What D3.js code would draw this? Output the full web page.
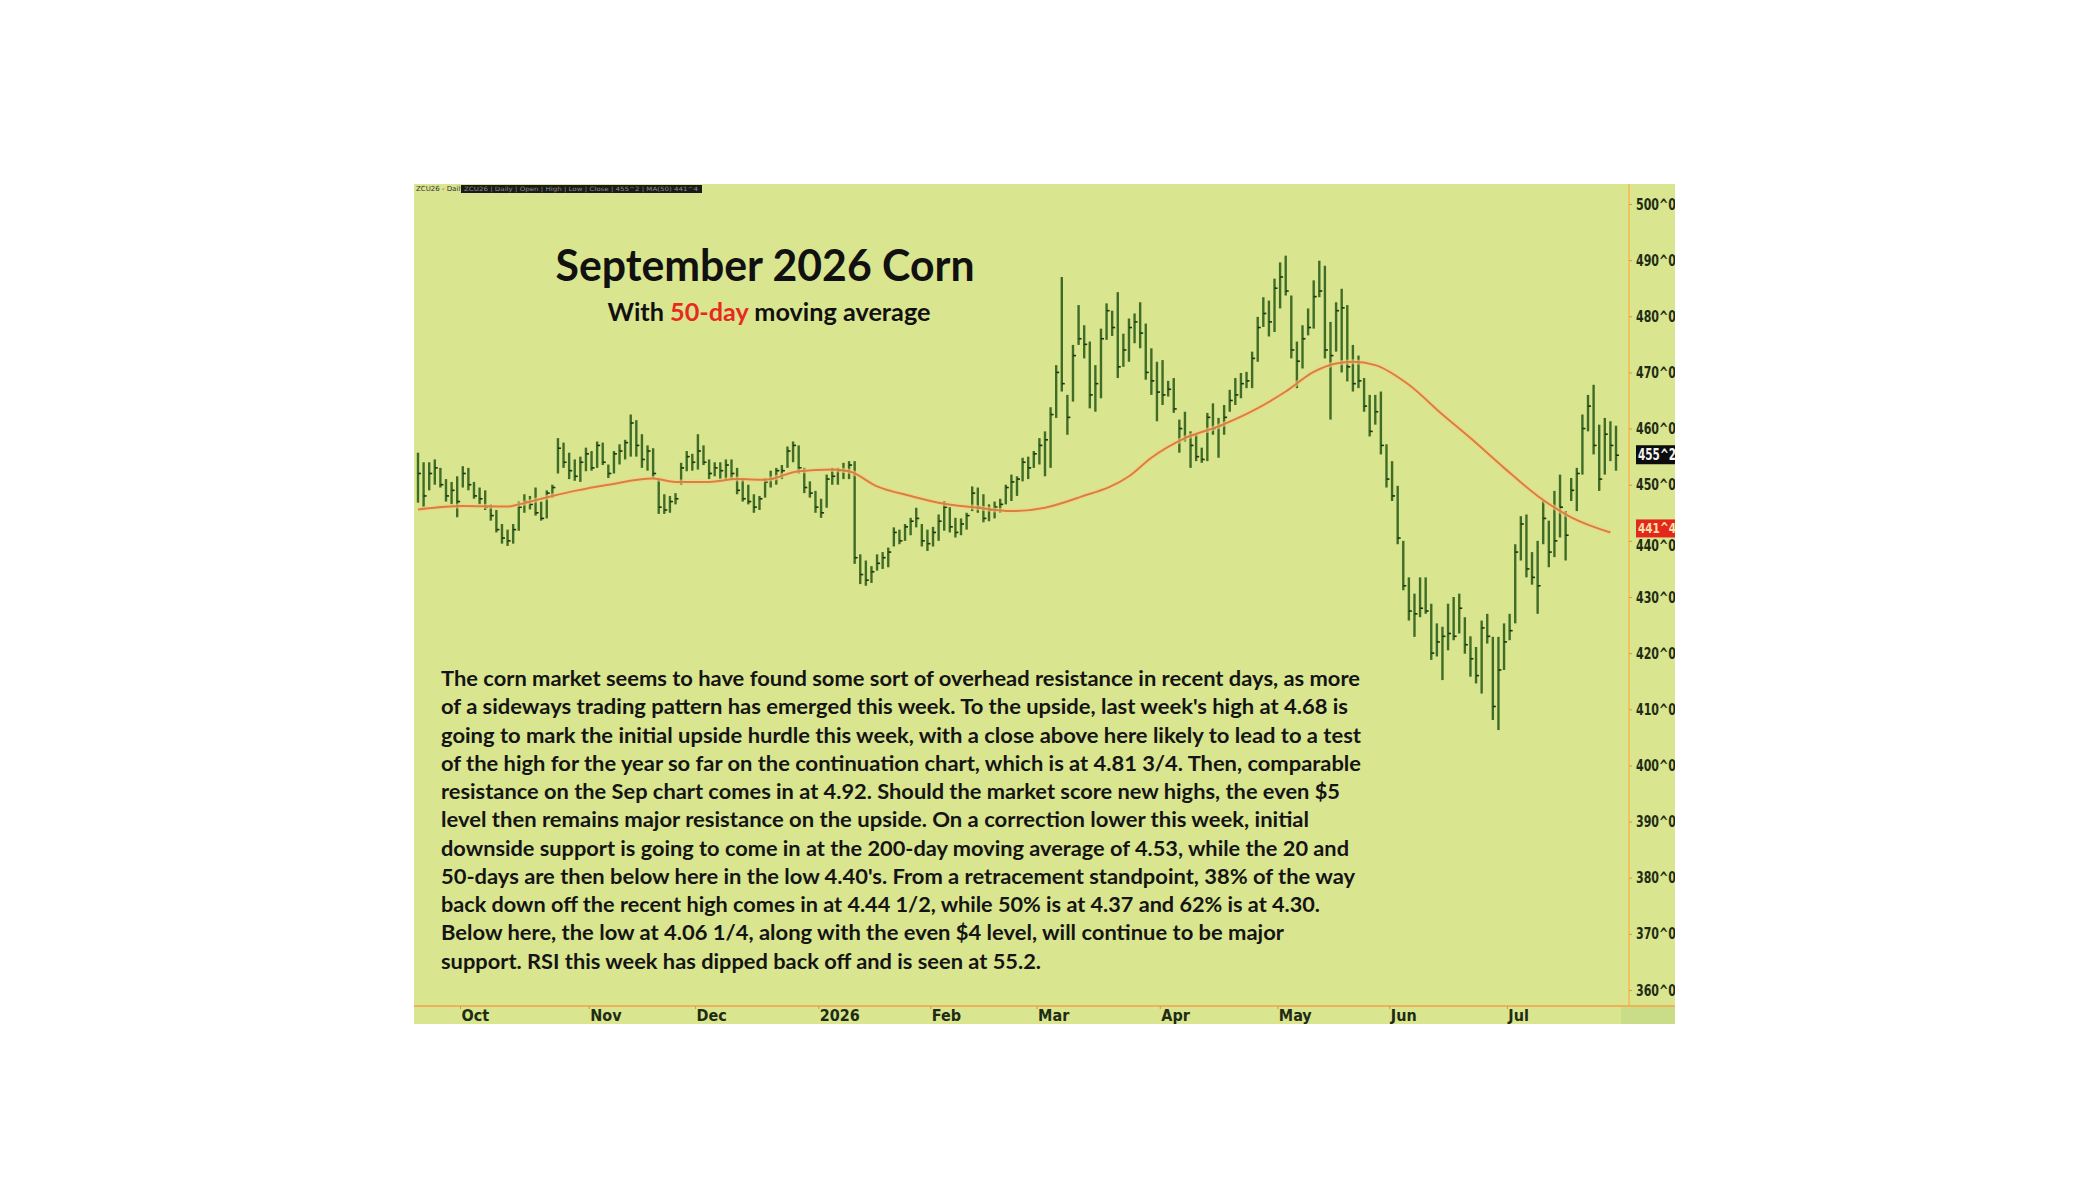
<!DOCTYPE html>
<html>
<head>
<meta charset="utf-8">
<script src="https://cdn.jsdelivr.net/npm/d3@7"></script>
<style>
  body { margin: 0; background: #ffffff; }
</style>
</head>
<body>
<div id="chart"></div>
<script>
// daily bars, Sep 2025 .. Jul 2026 (cents/bu)
var highs = [455.7,454,454,454.5,453,451,450.5,451.5,453.3,453,450.5,449.5,449,446.5,445.5,443,442,443,447,448.3,
  448,449.5,447,449,450,458.3,457.5,455.7,454.5,455,456.6,456,457.7,457.5,453.6,456,457.2,458,462.5,461.5,
  459,457,456.5,451,448.3,448,448.5,453.9,456,455.5,459,457,454.5,454,454,454.5,454.5,453,451.2,450,
  448.3,448,451.2,452.5,453,453.5,456.8,457.7,457,453,450.6,448.9,447.5,451.8,453,453,453.9,454.2,454.2,437.6,
  436.5,435.5,437.6,438,438.8,442.4,442,443,444.1,445.9,443,442,442.5,444.7,447.1,446,444.1,444,445,449.7,
  449.5,448.3,446.5,447,447.5,450,451.8,451.5,454.8,455,456,458.3,459.5,463.8,471.3,487,466,474.9,482,478.4,
  475.5,471.3,477.8,482.3,481,484.3,476.9,479.6,480.5,482.5,478.7,474.3,471.9,472.2,468.5,469,461.6,463,459.5,459,
  456.6,462.8,464.5,461.9,464.2,466.9,469,469.9,470.1,473.7,479.9,483.4,482.8,486.7,489.6,490.8,483.7,475.5,478.4,481.4,
  486.4,489.9,489,479,482.5,484.9,482,474.9,473,469,466,466,466.6,457.2,454.2,449.8,440,433.5,430.6,433.5,
  433.5,428.8,425.3,424.7,428.8,430,430.6,426.4,423,421.1,425.8,427,422.9,422.9,425.3,427,439.4,444.4,444.7,438,
  440,447.1,443.6,448.9,451.8,445.3,451.2,453,462.5,466,467.8,460.7,461.9,461.3,460.5];

var lows = [446.8,446,449,450,449.5,447,446.5,444.2,449.5,449,447.5,446.5,445.5,443.6,441.5,439.5,439.1,439.5,441.8,445,
  445.6,444.5,443.6,444,447.7,452,453,451,450.7,450.5,452.4,452.5,453,453.5,451.2,452,453.6,454.5,455,455,
  453,452.5,451,444.8,444.8,445,446.5,450,452.4,452.5,452.7,453.5,451,451.5,451,451,451,448.3,447,446.5,
  445,445.5,447.7,449.5,450,451,453,454,452,448.5,447.7,445,444.1,445.9,450,450,451,451,435.9,432.3,
  432,432.5,434.7,435,435.3,439,439.4,440,441,442.4,439,438.2,439,440,441.8,441.5,440.6,441,442,445.3,
  445,443.3,443.5,444,445,446.5,447.1,448,450.6,451,453,453.6,451.5,453,461.9,466.6,458.9,464.8,474.9,472.5,
  463.6,463,465.4,475.8,476.5,469,471,471.9,475.2,474.3,468.7,466,461.3,464.2,465.7,462.8,455.7,457.7,453,454.2,
  453.9,454.2,458.9,454.8,458.9,463,464.2,465.4,467.2,467.2,471.9,478.1,476.4,477.2,481.4,483.7,472.5,467.2,470.7,476.6,
  477.8,483.4,472.5,461.6,473.7,470,468.4,466.6,467.2,463,458.6,460.7,455.4,449.5,447.1,439.4,431.2,425.8,422.9,426.4,
  427,418.8,419.4,415.2,420.5,422.3,423.5,419.9,415.8,414.6,412.8,421.7,408.1,406.3,417,422.3,425.3,436.5,433.5,432.2,
  427,439.4,435.3,437.1,440.6,436.5,447.1,445.3,451.8,459.5,455.4,448.9,451.8,454.2,452.5];

var closes = [452,448,452,453,450,448,449,447,452,450,448,447.5,446,444.5,442,440.5,440,442,446,447,
  446.5,445,444,448.5,449.5,456.5,454,452.5,451.5,454,455.5,453,457,454,452,455.5,456,457.5,461,457,
  454.5,456,452,446,445.5,447,447.5,453,455,454,456,454,452,453,452.5,453.5,452,449,447.5,447,
  446,447.5,450.5,451,452.5,452.5,456,457,453,449.5,448.5,446,445,451,451.5,452.5,452.5,453.5,437,434,
  433,434.5,436,437,438,441.5,440,442.5,443.5,444,440,439.5,441.5,443.5,446,442.5,441.5,443,444.5,448.5,
  446,444,445.5,446,446.5,449.5,450.5,451,454,453,455.5,457,458,462.5,470,468,462,473,476,475,
  466,468,476,481,478,471,474,478,479,477,470,468.5,466.5,466,467,463.5,460,458.5,457,455,
  454.5,462,460,460.5,462,465,466,468,468.5,472.5,478,480.5,479,485,487,484.5,474,472,476,478,
  483.5,484.5,474,473,481,481.5,471,468,468.5,464,459.5,463,457,451,448,440.5,432,427.5,427,428,
  427.5,420,422,423,423.5,423,428,421.5,419,416,424.5,423,410.5,417,422,424,438,443,435,433.5,
  432,444,438,440,446,441,449,452,460,464,457,451,459,457,455.25];

// 50-day moving average, read at points along the curve
var maIdx = [0, 8, 16, 18, 24, 28, 34, 42, 46, 52, 57, 62, 68, 74, 77, 82, 88, 94, 100, 106,
  112, 118, 127, 131, 137, 143, 149, 155, 160, 164, 167, 171, 177, 183, 188, 194, 200, 206, 213];
var maVal = [445.6, 446.2, 446.1, 446.5, 448, 448.9, 450, 451.1, 450.5, 450.5, 451, 450.9, 452.4, 452.7, 452.4, 449.7, 448, 446.6, 445.9, 445.3,
  445.9, 447.7, 451.5, 454.8, 458.3, 460.4, 463.1, 466.6, 470.1, 471.6, 471.9, 471.3, 467.8, 462.5, 458.3, 453, 448, 444.2, 441.5];

var monthIdx = [8, 31, 50, 72, 92, 111, 133, 154, 174, 195];
var monthLabels = ['Oct', 'Nov', 'Dec', '2026', 'Feb', 'Mar', 'Apr', 'May', 'Jun', 'Jul'];
var yTicks = [360, 370, 380, 390, 400, 410, 420, 430, 440, 450, 460, 470, 480, 490, 500];

var lastPrice = 455.25, lastLabel = '455^2';
var maLast = 441.5, maLabel = '441^4';

var noteLines = [
  "The corn market seems to have found some sort of overhead resistance in recent days, as more",
  "of a sideways trading pattern has emerged this week. To the upside, last week's high at 4.68 is",
  "going to mark the initial upside hurdle this week, with a close above here likely to lead to a test",
  "of the high for the year so far on the continuation chart, which is at 4.81 3/4. Then, comparable",
  "resistance on the Sep chart comes in at 4.92. Should the market score new highs, the even $5",
  "level then remains major resistance on the upside. On a correction lower this week, initial",
  "downside support is going to come in at the 200-day moving average of 4.53, while the 20 and",
  "50-days are then below here in the low 4.40's. From a retracement standpoint, 38% of the way",
  "back down off the recent high comes in at 4.44 1/2, while 50% is at 4.37 and 62% is at 4.30.",
  "Below here, the low at 4.06 1/4, along with the even $4 level, will continue to be major",
  "support. RSI this week has dipped back off and is seen at 55.2."
];
var noteWidths = [919, 907, 920, 920, 899, 868, 908, 914, 879, 843, 600];

var condensed = "'DejaVu Sans Condensed', 'Liberation Sans Narrow', 'DejaVu Sans'";

// canvas
var svg = d3.select('#chart').append('svg')
    .attr('width', 2100)
    .attr('height', 1200)
    .style('background', '#ffffff');

var panel = { x: 414, y: 184, w: 1261, h: 840 };

svg.append('defs').append('clipPath')
    .attr('id', 'panelClip')
  .append('rect')
    .attr('x', panel.x).attr('y', panel.y)
    .attr('width', panel.w).attr('height', panel.h);

var root = svg.append('g').attr('clip-path', 'url(#panelClip)');

root.append('rect')
    .attr('x', panel.x).attr('y', panel.y)
    .attr('width', panel.w).attr('height', panel.h)
    .attr('fill', '#d9e58f');

// darker corner under the price scale
root.append('rect')
    .attr('x', 1621).attr('y', 1007)
    .attr('width', 54).attr('height', 17)
    .attr('fill', '#c9dc88');

var x = d3.scaleLinear().domain([0, 214]).range([418, 1616]);
var y = d3.scaleLinear().domain([360, 500]).range([990, 204]);

// axis frame lines
root.append('line')
    .attr('x1', 1629).attr('x2', 1629)
    .attr('y1', panel.y).attr('y2', 1006)
    .attr('stroke', '#f1c35c').attr('stroke-width', 2);
root.append('line')
    .attr('x1', panel.x).attr('x2', panel.x + panel.w)
    .attr('y1', 1006).attr('y2', 1006)
    .attr('stroke', '#eeb257').attr('stroke-width', 2);

// header strip
root.append('text')
    .attr('x', 416).attr('y', 191)
    .attr('font-family', 'DejaVu Sans')
    .attr('font-size', '7px')
    .attr('fill', '#333')
    .text('ZCU26 - Daily');
root.append('rect')
    .attr('x', 461).attr('y', 185)
    .attr('width', 241).attr('height', 8)
    .attr('fill', '#1a1a1a');
root.append('text')
    .attr('x', 464).attr('y', 191)
    .attr('font-family', 'DejaVu Sans')
    .attr('font-size', '6px')
    .attr('fill', '#8a8a8a')
    .attr('textLength', 234)
    .attr('lengthAdjust', 'spacingAndGlyphs')
    .text('ZCU26 | Daily | Open | High | Low | Close | 455^2 | MA(50) 441^4');

// y axis
var yAxis = root.append('g')
    .attr('transform', 'translate(1629,0)')
    .call(d3.axisRight(y).tickValues(yTicks).tickSize(3).tickPadding(4)
      .tickFormat(function(d) { return d + '^0'; }));
yAxis.select('.domain').remove();
yAxis.selectAll('line').attr('stroke', '#c9a046');
yAxis.selectAll('text')
    .attr('font-family', condensed)
    .attr('font-weight', 'bold')
    .attr('font-size', '16px')
    .attr('fill', '#1f2c14')
    .attr('textLength', 40)
    .attr('lengthAdjust', 'spacingAndGlyphs');
// the 440 label sits just under the MA tag
yAxis.selectAll('.tick')
    .filter(function(d) { return d === 440; })
    .select('text')
    .attr('y', 5);

// x axis (month starts)
var xAxis = root.append('g')
    .attr('transform', 'translate(0,1006)')
    .call(d3.axisBottom(x)
      .tickValues(monthIdx.map(function(d) { return d - 0.5; }))
      .tickSize(3)
      .tickFormat(function(d, i) { return monthLabels[i]; }));
xAxis.select('.domain').remove();
xAxis.selectAll('line').attr('stroke', '#c9a046');
xAxis.selectAll('text')
    .attr('text-anchor', 'start')
    .attr('x', 1)
    .attr('y', 4)
    .attr('font-family', condensed)
    .attr('font-weight', 'bold')
    .attr('font-size', '16px')
    .attr('fill', '#1f2c14');

// price bars
var idx = d3.range(highs.length);
var bars = root.append('g');
bars.selectAll('line.hl')
    .data(idx)
    .enter().append('line')
    .attr('class', 'hl')
    .attr('x1', function(i) { return x(i); })
    .attr('x2', function(i) { return x(i); })
    .attr('y1', function(i) { return y(highs[i]); })
    .attr('y2', function(i) { return y(lows[i]); })
    .attr('stroke', '#3f6d26')
    .attr('stroke-width', 2.4);
bars.selectAll('line.cl')
    .data(idx)
    .enter().append('line')
    .attr('class', 'cl')
    .attr('x1', function(i) { return x(i); })
    .attr('x2', function(i) { return x(i) + 3; })
    .attr('y1', function(i) { return y(closes[i]); })
    .attr('y2', function(i) { return y(closes[i]); })
    .attr('stroke', '#1d3510')
    .attr('stroke-width', 1.6);

// 50-day moving average
var maPts = maIdx.map(function(d, i) { return [d, maVal[i]]; });
var maLine = d3.line()
    .x(function(d) { return x(d[0]); })
    .y(function(d) { return y(d[1]); })
    .curve(d3.curveMonotoneX);
root.append('path')
    .attr('d', maLine(maPts))
    .attr('fill', 'none')
    .attr('stroke', '#f3d08f')
    .attr('stroke-opacity', 0.6)
    .attr('stroke-width', 5);
root.append('path')
    .attr('d', maLine(maPts))
    .attr('fill', 'none')
    .attr('stroke', '#d9803a')
    .attr('stroke-width', 2);

// last price / MA value tags
root.append('rect')
    .attr('x', 1636).attr('y', y(lastPrice) - 10)
    .attr('width', 40).attr('height', 19)
    .attr('fill', '#0c0c0c');
root.append('text')
    .attr('x', 1638).attr('y', y(lastPrice) + 5)
    .attr('font-family', condensed)
    .attr('font-weight', 'bold')
    .attr('font-size', '15px')
    .attr('fill', '#f2f2f2')
    .attr('textLength', 38)
    .attr('lengthAdjust', 'spacingAndGlyphs')
    .text(lastLabel);
root.append('rect')
    .attr('x', 1636).attr('y', y(maLast) - 13)
    .attr('width', 40).attr('height', 18)
    .attr('fill', '#e3271d');
root.append('text')
    .attr('x', 1638).attr('y', y(maLast) + 1)
    .attr('font-family', condensed)
    .attr('font-weight', 'bold')
    .attr('font-size', '14px')
    .attr('fill', '#ffe3a6')
    .attr('textLength', 38)
    .attr('lengthAdjust', 'spacingAndGlyphs')
    .text(maLabel);

// title block
var titles = root.append('g')
    .attr('font-family', "Lato, 'Open Sans', sans-serif")
    .attr('font-weight', 'bold')
    .attr('text-anchor', 'middle')
    .attr('fill', '#111111');

titles.append('text')
    .attr('x', 765).attr('y', 281)
    .attr('font-size', '44px')
    .attr('textLength', 419)
    .attr('lengthAdjust', 'spacingAndGlyphs')
    .text('September 2026 Corn');

var sub = titles.append('text')
    .attr('x', 769).attr('y', 321)
    .attr('font-size', '25px')
    .attr('textLength', 323)
    .attr('lengthAdjust', 'spacingAndGlyphs');
sub.append('tspan').text('With ');
sub.append('tspan').attr('fill', '#e8291f').text('50-day');
sub.append('tspan').text(' moving average');

// commentary
var notes = root.append('g')
    .attr('font-family', "Lato, 'Open Sans', sans-serif")
    .attr('font-weight', 'bold')
    .attr('font-size', '21px')
    .attr('fill', '#141414');

notes.selectAll('text')
    .data(noteLines)
    .enter().append('text')
    .attr('x', 441)
    .attr('y', function(d, i) { return 686 + i * 28.25; })
    .attr('textLength', function(d, i) { return noteWidths[i]; })
    .attr('lengthAdjust', 'spacingAndGlyphs')
    .text(function(d) { return d; });
</script>
</body>
</html>
